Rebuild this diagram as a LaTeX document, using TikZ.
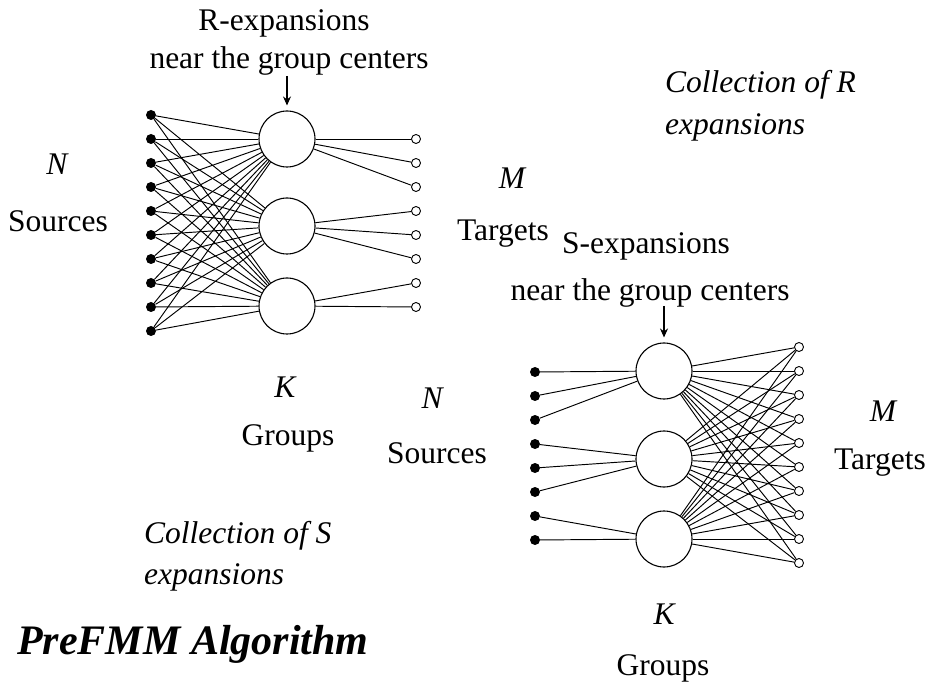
\documentclass[tikz,border=0pt]{standalone}
\usepackage{fontspec}
\setmainfont{Liberation Serif}
\usetikzlibrary{arrows.meta}
\tikzset{
  src/.style={circle, fill=black, inner sep=0pt, minimum size=10pt},
  tgt/.style={circle, draw, fill=white, line width=0.9pt, inner sep=0pt, minimum size=9pt},
  grp/.style={circle, draw, fill=white, line width=1.1pt, inner sep=0pt, minimum size=56pt},
  edge/.style={line width=0.95pt},
  pointer/.style={line width=1.1pt, -{Stealth[length=9pt,width=8pt]}, shorten >=5pt},
  lbl/.style={font=\fontsize{31.5}{36}\selectfont, inner sep=0pt, anchor=base},
  ilbl/.style={lbl, font=\fontsize{31.5}{36}\selectfont\itshape},
  title/.style={font=\fontsize{42}{48}\selectfont\bfseries\itshape, inner sep=0pt, anchor=base west}
}
\begin{document}
\begin{tikzpicture}[x=1pt, y=-1pt]
\useasboundingbox (0,0) rectangle (929,684);

% ---- R-expansion network: 10 sources, 3 groups, 8 targets ----
\foreach \i in {1,...,10} \node[src] (ls\i) at (151, {115+24*(\i-1)}) {};
\foreach \i in {1,...,8} \node[tgt] (lt\i) at (416, {139+24*(\i-1)}) {};
\node[grp] (lg1) at (287,139) {};
\node[grp] (lg2) at (287,226) {};
\node[grp] (lg3) at (287,306) {};
\foreach \i in {1,...,10} \foreach \g in {1,2,3} \draw[edge] (ls\i) -- (lg\g);
\foreach \t in {1,2,3} \draw[edge] (lg1) -- (lt\t);
\foreach \t in {4,5,6} \draw[edge] (lg2) -- (lt\t);
\foreach \t in {7,8} \draw[edge] (lg3) -- (lt\t);
\coordinate (rtop) at (287,76);
\draw[pointer] (rtop) -- (lg1);

% ---- S-expansion network: 8 sources, 3 groups, 10 targets ----
\foreach \i in {1,...,8} \node[src] (rs\i) at (535, {372+24*(\i-1)}) {};
\foreach \i in {1,...,10} \node[tgt] (rt\i) at (799, {347+24*(\i-1)}) {};
\node[grp] (rg1) at (664,371) {};
\node[grp] (rg2) at (664,459) {};
\node[grp] (rg3) at (664,539) {};
\foreach \s in {1,2,3} \draw[edge] (rs\s) -- (rg1);
\foreach \s in {4,5,6} \draw[edge] (rs\s) -- (rg2);
\foreach \s in {7,8} \draw[edge] (rs\s) -- (rg3);
\foreach \g in {1,2,3} \foreach \t in {1,...,10} \draw[edge] (rg\g) -- (rt\t);
\coordinate (stop) at (664,306);
\draw[pointer] (stop) -- (rg1);

% ---- labels ----
\node[lbl] (rexp1) at (284,31) {R-expansions};
\node[lbl] (rexp2) at (289,69) {near the group centers};
\node[ilbl, anchor=base west] (rcol1) at (665,93) {Collection of R};
\node[ilbl, anchor=base west] (rcol2) at (665,135) {expansions};
\node[ilbl] (ln) at (57,175) {N};
\node[lbl] (lsrc) at (58,232) {Sources};
\node[ilbl] (lm) at (512,189) {M};
\node[lbl] (ltgt) at (503,241) {Targets};
\node[lbl] (sexp1) at (646,254) {S-expansions};
\node[lbl] (sexp2) at (650,301) {near the group centers};
\node[ilbl] (lk) at (285,398) {K};
\node[lbl] (lgrp) at (288,445) {Groups};
\node[ilbl] (rn) at (432,409) {N};
\node[lbl] (rsrc) at (437,463) {Sources};
\node[ilbl] (rm) at (883,421) {M};
\node[lbl] (rtgt) at (880,469) {Targets};
\node[ilbl, anchor=base west] (scol1) at (144,543) {Collection of S};
\node[ilbl, anchor=base west] (scol2) at (144,584) {expansions};
\node[title] (ttl) at (17,654) {PreFMM Algorithm};
\node[ilbl] (rk) at (664,624) {K};
\node[lbl] (rgrp) at (663,675) {Groups};
\end{tikzpicture}
\end{document}
